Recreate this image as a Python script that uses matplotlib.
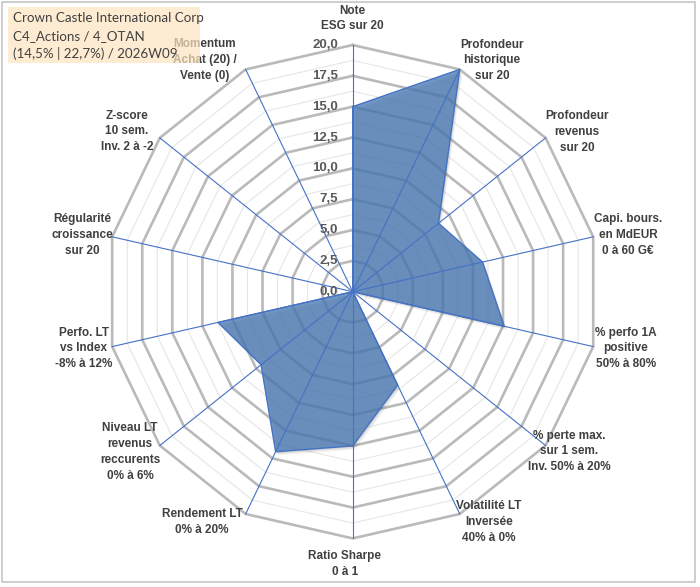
import numpy as np
import matplotlib
matplotlib.use('Agg')
import matplotlib.pyplot as plt
from matplotlib.patches import Rectangle, Polygon

# ---------------- data ----------------
categories = [
    "Note\nESG sur 20",
    "Profondeur\nhistorique\nsur 20",
    "Profondeur\nrevenus\nsur 20",
    "Capi. bours.\nen MdEUR\n0 à 60 G€",
    "% perfo 1A\npositive\n50% à 80%",
    "% perte max.\nsur 1 sem.\nInv. 50% à 20%",
    "Volatilité LT\nInversée\n40% à 0%",
    "Ratio Sharpe\n0 à 1",
    "Rendement LT\n0% à 20%",
    "Niveau LT\nrevenus\nreccurents\n0% à 6%",
    "Perfo. LT\nvs Index\n-8% à 12%",
    "Régularité\ncroissance\nsur 20",
    "Z-score\n10 sem.\nInv. 2 à -2",
    "Momentum\nAchat (20) /\nVente (0)",
]
values = [15.0, 20.0, 8.9, 10.8, 12.6, 0.0, 8.4, 12.5, 14.4, 9.5, 11.2, 0.0, 0.0, 0.0]
tick_values = [0.0, 2.5, 5.0, 7.5, 10.0, 12.5, 15.0, 17.5, 20.0]
tick_labels = ["0,0", "2,5", "5,0", "7,5", "10,0", "12,5", "15,0", "17,5", "20,0"]
minor_values = [1.25, 3.75, 6.25, 8.75, 11.25, 13.75, 16.25, 18.75]
title_lines = ["Crown Castle International Corp", "C4_Actions / 4_OTAN", "(14,5% | 22,7%) / 2026W09"]

# ---------------- layout ----------------
W, H = 700, 587
CX, CY = 352.7, 291.7      # centre in pixels (from top-left)
RPX = 246.7                # pixel radius of value 20
rmax = 20.0
s = RPX / rmax

label_px = [(352, 18.5), (492, 60.5), (577, 132), (628, 235), (626, 348.5),
            (569, 451.5), (489, 522), (345, 564), (202, 522), (130, 452),
            (84, 348.5), (82, 235), (127, 131.5), (205, 60)]

def px(x, y):
    return ((x - CX) / s, (CY - y) / s)

fig = plt.figure(figsize=(W / 100, H / 100), dpi=100)
ax = fig.add_axes([0, 0, 1, 1])
ax.set_xlim(-CX / s, (W - CX) / s)
ax.set_ylim(-(H - CY) / s, CY / s)
ax.axis('off')

N = len(categories)
theta = np.arange(N) * 2 * np.pi / N
sx, cy_ = np.sin(theta), np.cos(theta)

def ring(r):
    xs = np.append(r * sx, r * sx[0])
    ys = np.append(r * cy_, r * cy_[0])
    return xs, ys

# minor grid
for r in minor_values:
    xs, ys = ring(r)
    ax.plot(xs, ys, color='#e6e6e6', lw=0.8, zorder=1)
# major grid
for r in tick_values[1:]:
    xs, ys = ring(r)
    ax.plot(xs, ys, color='#bababa', lw=1.9, zorder=2, solid_joinstyle='miter')

# data polygon
v = np.array(values)
pts = np.column_stack([v * sx, v * cy_])
for k, a in [(3, 0.05), (2, 0.07), (1, 0.09)]:
    sh = pts + np.array([k * 0.9 / s, -k * 1.2 / s])
    ax.add_patch(Polygon(sh, closed=True, facecolor='black', edgecolor='none', alpha=a, zorder=3))
ax.add_patch(Polygon(pts, closed=True, facecolor='#4a7bb8', alpha=0.76, edgecolor='none', zorder=4))
ax.add_patch(Polygon(pts, closed=True, facecolor='none', edgecolor='#4472c4', lw=1.0, zorder=5))

# spokes
for i in range(N):
    ax.plot([0, rmax * sx[i]], [0, rmax * cy_[i]], color='#4472c4', lw=0.8, zorder=6)

# tick labels
tx, _ = px(338, 0)
for tv, tl in zip(tick_values, tick_labels):
    ax.text(tx, tv, tl, ha='right', va='center', fontsize=9.5, fontweight='bold',
            color='#595959', family='Liberation Sans', zorder=7)

# category labels
for lab, (lx, ly) in zip(categories, label_px):
    dx, dy = px(lx, ly)
    ax.text(dx, dy, lab, ha='center', va='center', multialignment='center',
            fontsize=8.5, fontweight='bold', color='#404040', family='Liberation Sans',
            linespacing=1.42, zorder=7)

# title box
fig.patches.append(Rectangle((8 / W, 1 - 63 / H), 192 / W, 56 / H, transform=fig.transFigure,
                             facecolor='#fde4c0', edgecolor='none', alpha=0.7, zorder=10))
for i, t in enumerate(title_lines):
    fig.text(13 / W, 1 - (18 + 18 * i) / H, t, ha='left', va='center', fontsize=9.6,
             color='#404040', family='Lato', zorder=11)

# chart border
fig.patches.append(Rectangle((2 / W, 1 - 582 / H), 693 / W, 580 / H, transform=fig.transFigure,
                             facecolor='none', edgecolor='#c6c6c6', lw=1.2, zorder=12))

fig.savefig('out.png', dpi=100)
